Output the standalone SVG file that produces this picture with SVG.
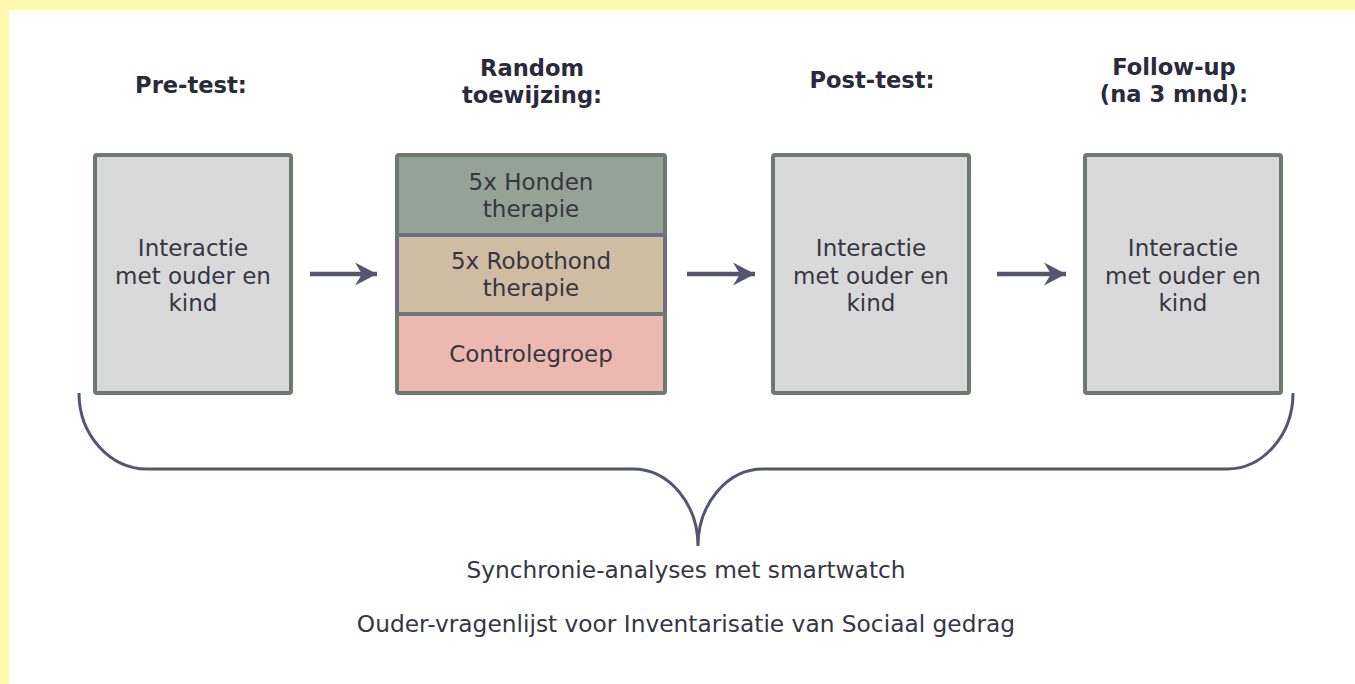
<svg xmlns="http://www.w3.org/2000/svg" width="1355" height="684" viewBox="0 0 1355 684">
<style>
.title{font-family:"DejaVu Sans",Verdana,sans-serif;font-weight:bold;font-size:22.6px;fill:#2a2a38;text-anchor:middle}
.txt{font-family:"DejaVu Sans",Verdana,sans-serif;font-size:23px;fill:#363642;text-anchor:middle}
.low{font-size:23.3px}
.box{fill:#d9d9d9;stroke:#6e7a70;stroke-width:4}
.conn{stroke:#555570;stroke-width:4.5;fill:none}
.brace{stroke:#555570;stroke-width:3;fill:none}
</style>
<defs>
<marker id="ah" markerUnits="userSpaceOnUse" markerWidth="26" markerHeight="26" refX="22" refY="13" orient="auto" viewBox="0 0 26 26">
<path d="M0,1.5 L22,13 L0,24.5 L7,13 Z" fill="#555570"/>
</marker>
</defs>
<rect width="1355" height="684" fill="#ffffff"/>
<rect x="0" y="0" width="1355" height="10" fill="#fff8ad"/>
<rect x="0" y="0" width="9" height="684" fill="#fff8ad"/>

<g id="titles">
<text class="title" x="191" y="93">Pre-test:</text>
<text class="title" x="532" y="76">Random</text>
<text class="title" x="532" y="103">toewijzing:</text>
<text class="title" x="872" y="88">Post-test:</text>
<text class="title" x="1174" y="75">Follow-up</text>
<text class="title" x="1174" y="102">(na 3 mnd):</text>
</g>

<g id="connectors">
<line class="conn" x1="310" y1="274" x2="377" y2="274" marker-end="url(#ah)"/>
<line class="conn" x1="687" y1="274" x2="755" y2="274" marker-end="url(#ah)"/>
<line class="conn" x1="997" y1="274" x2="1066" y2="274" marker-end="url(#ah)"/>
<path class="brace" d="M79,393 C79,435 110,469 147,469 H633 C669,469 698,504 698,546 C698,504 727,469 763,469 H1227 C1263,469 1293,435 1293,393"/>
</g>

<g id="pretest">
<rect class="box" x="95" y="155" width="196" height="238" rx="2"/>
<text class="txt" x="193" y="256">Interactie</text>
<text class="txt" x="193" y="283.5">met ouder en</text>
<text class="txt" x="193" y="311">kind</text>
</g>

<g id="random">
<rect x="397" y="155" width="268" height="80" fill="#94a396"/>
<rect x="397" y="235" width="268" height="79" fill="#cfbca3"/>
<rect x="397" y="314" width="268" height="79" fill="#ecb9b0"/>
<line x1="397" y1="235" x2="665" y2="235" stroke="#6d6b88" stroke-width="4"/>
<line x1="397" y1="314" x2="665" y2="314" stroke="#6e7a70" stroke-width="4"/>
<rect x="397" y="155" width="268" height="238" rx="2" fill="none" stroke="#6e7a70" stroke-width="4"/>
<line x1="397" y1="237" x2="397" y2="312" stroke="#6d6b88" stroke-width="4"/>
<line x1="665" y1="237" x2="665" y2="312" stroke="#6d6b88" stroke-width="4"/>
<text class="txt" x="531" y="190">5x Honden</text>
<text class="txt" x="531" y="217">therapie</text>
<text class="txt" x="531" y="269">5x Robothond</text>
<text class="txt" x="531" y="296">therapie</text>
<text class="txt" x="531" y="362">Controlegroep</text>
</g>

<g id="posttest">
<rect class="box" x="773" y="155" width="196" height="238" rx="2"/>
<text class="txt" x="871" y="256">Interactie</text>
<text class="txt" x="871" y="283.5">met ouder en</text>
<text class="txt" x="871" y="311">kind</text>
</g>

<g id="followup">
<rect class="box" x="1085" y="155" width="196" height="238" rx="2"/>
<text class="txt" x="1183" y="256">Interactie</text>
<text class="txt" x="1183" y="283.5">met ouder en</text>
<text class="txt" x="1183" y="311">kind</text>
</g>

<g id="measures">
<text class="txt low" x="686" y="578">Synchronie-analyses met smartwatch</text>
<text class="txt low" x="686" y="632">Ouder-vragenlijst voor Inventarisatie van Sociaal gedrag</text>
</g>
</svg>
